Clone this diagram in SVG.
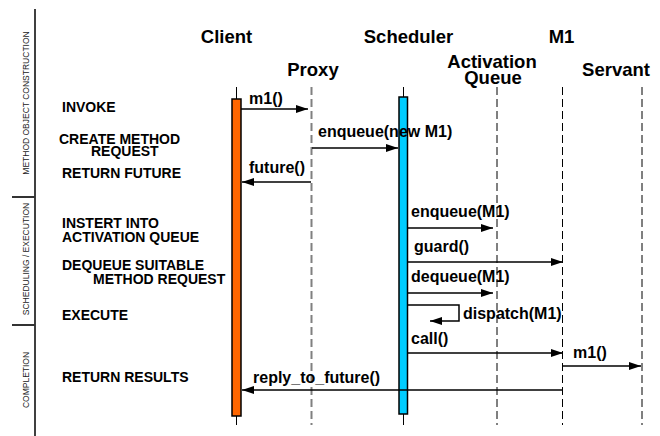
<svg xmlns="http://www.w3.org/2000/svg" width="660" height="436" viewBox="0 0 660 436">
<defs>
<marker id="ah" markerWidth="12" markerHeight="8" refX="12" refY="4" orient="auto" markerUnits="userSpaceOnUse">
<path d="M0,0 L12,4 L0,8 Z" fill="#000"/>
</marker>
<style>
.hd{font-family:"Liberation Sans",Arial,sans-serif;font-weight:bold;font-size:18.5px;fill:#000}
.lb{font-family:"Liberation Sans",Arial,sans-serif;font-weight:bold;font-size:14px;fill:#000}
.ml{font-family:"Liberation Sans",Arial,sans-serif;font-weight:bold;font-size:16px;fill:#000}
.vt{font-family:"Liberation Sans",Arial,sans-serif;font-size:8.5px;fill:#222}
.msg{stroke:#000;stroke-width:1.5;fill:none}
.ll{stroke:#000;stroke-width:1;stroke-dasharray:8,4;fill:none}
.llg{stroke:#808080;stroke-width:2;stroke-dasharray:8,4;fill:none}
.sep{stroke:#333;stroke-width:2}
</style>
</defs>
<g id="phases">
<line x1="35" y1="9" x2="35" y2="436" stroke="#000" stroke-width="1.5"/>
<line class="sep" x1="12" y1="197" x2="35" y2="197"/>
<line class="sep" x1="12" y1="325" x2="35" y2="325"/>
<text class="vt" text-anchor="middle" transform="translate(29,103) rotate(-90)">METHOD OBJECT CONSTRUCTION</text>
<text class="vt" text-anchor="middle" transform="translate(29,259) rotate(-90)">SCHEDULING / EXECUTION</text>
<text class="vt" text-anchor="middle" transform="translate(29,380) rotate(-90)">COMPLETION</text>
</g>
<g id="steps">
<text class="lb" x="62" y="112">INVOKE</text>
<text class="lb" x="59" y="143.5">CREATE METHOD</text>
<text class="lb" x="91" y="155.5">REQUEST</text>
<text class="lb" x="62" y="178">RETURN FUTURE</text>
<text class="lb" x="62" y="227.5">INSTERT INTO</text>
<text class="lb" x="62" y="242">ACTIVATION QUEUE</text>
<text class="lb" x="62" y="269.5">DEQUEUE SUITABLE</text>
<text class="lb" x="93" y="284">METHOD REQUEST</text>
<text class="lb" x="62" y="320">EXECUTE</text>
<text class="lb" x="62" y="382">RETURN RESULTS</text>
</g>
<g id="client">
<text class="hd" x="226.5" y="43" text-anchor="middle">Client</text>
<line x1="236.5" y1="87" x2="236.5" y2="425" stroke="#000" stroke-width="1"/>
<rect x="232" y="99" width="9" height="317" fill="#FF6600" stroke="#000" stroke-width="1.5"/>
</g>
<g id="proxy">
<text class="hd" x="313" y="76" text-anchor="middle">Proxy</text>
<line class="llg" x1="311.5" y1="87" x2="311.5" y2="425"/>
</g>
<g id="scheduler">
<text class="hd" x="408.5" y="43" text-anchor="middle">Scheduler</text>
<line x1="403.5" y1="87" x2="403.5" y2="425" stroke="#000" stroke-width="1"/>
<rect x="399" y="97" width="8.5" height="317" fill="#00CCFF" stroke="#000" stroke-width="1.5"/>
</g>
<g id="activation-queue">
<text class="hd" x="492" y="67.5" text-anchor="middle">Activation</text>
<text class="hd" x="493" y="83.5" text-anchor="middle">Queue</text>
<line class="ll" x1="497" y1="87" x2="497" y2="425"/>
</g>
<g id="m1">
<text class="hd" x="561.5" y="43" text-anchor="middle">M1</text>
<line class="ll" x1="562.5" y1="87" x2="562.5" y2="425"/>
</g>
<g id="servant">
<text class="hd" x="616" y="76" text-anchor="middle">Servant</text>
<line class="ll" x1="642" y1="87" x2="642" y2="425"/>
</g>
<g id="connectors">
<line class="msg" x1="241" y1="109" x2="308" y2="109" marker-end="url(#ah)"/>
<text class="ml" x="249" y="104">m1()</text>
<line class="msg" x1="312" y1="148" x2="398" y2="148" marker-end="url(#ah)"/>
<text class="ml" x="318" y="137">enqueue(new M1)</text>
<line class="msg" x1="311" y1="182" x2="242" y2="182" marker-end="url(#ah)"/>
<text class="ml" x="249" y="173">future()</text>
<line class="msg" x1="408" y1="228" x2="493" y2="228" marker-end="url(#ah)"/>
<text class="ml" x="411" y="217">enqueue(M1)</text>
<line class="msg" x1="408" y1="262" x2="563" y2="262" marker-end="url(#ah)"/>
<text class="ml" x="414" y="252">guard()</text>
<line class="msg" x1="408" y1="293" x2="493" y2="293" marker-end="url(#ah)"/>
<text class="ml" x="411" y="282">dequeue(M1)</text>
<path class="msg" d="M408,305 H459 V321 H430" marker-end="url(#ah)"/>
<text class="ml" x="463" y="319">dispatch(M1)</text>
<line class="msg" x1="408" y1="353" x2="563" y2="353" marker-end="url(#ah)"/>
<text class="ml" x="411" y="344">call()</text>
<line class="msg" x1="563" y1="366" x2="641" y2="366" marker-end="url(#ah)"/>
<text class="ml" x="573" y="358">m1()</text>
<line class="msg" x1="562" y1="390" x2="242" y2="390" marker-end="url(#ah)"/>
<text class="ml" x="253" y="383">reply_to_future()</text>
</g>
</svg>
